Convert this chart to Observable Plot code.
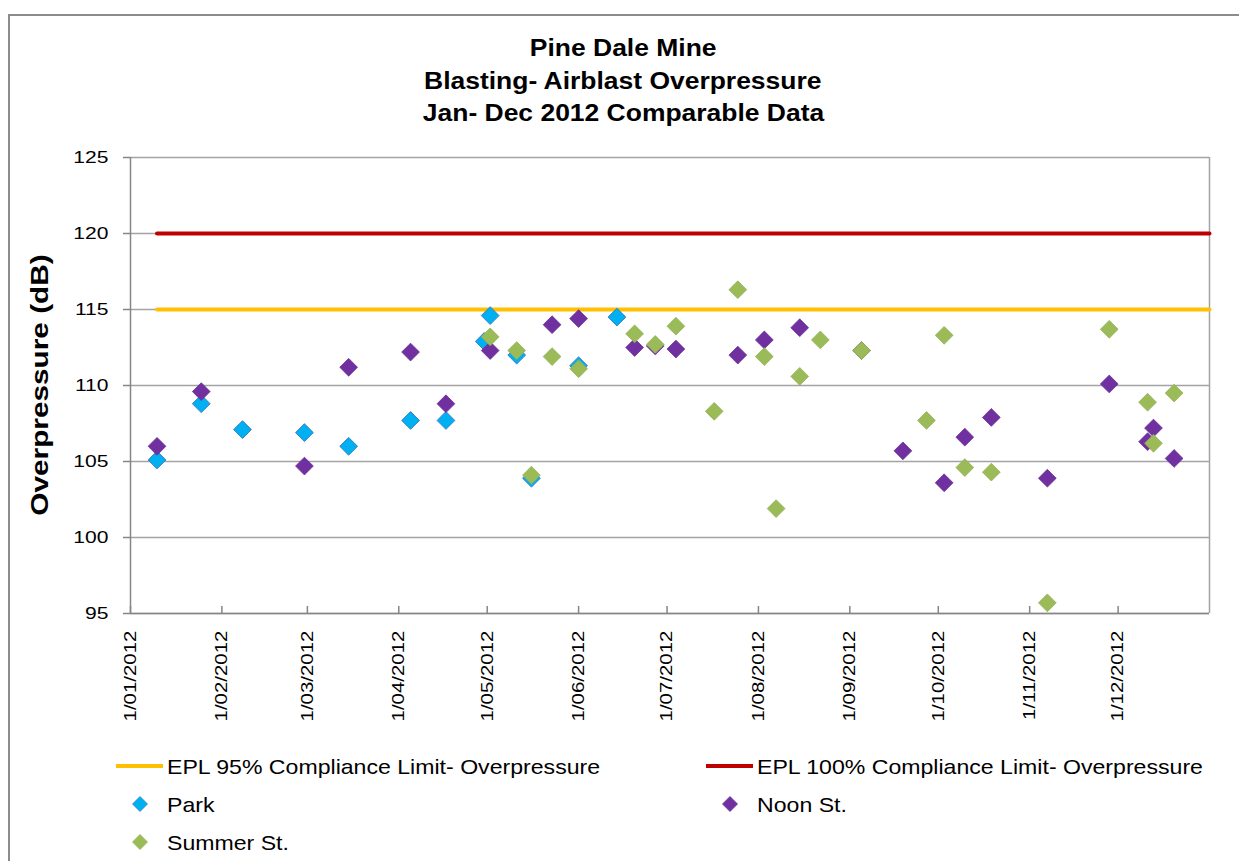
<!DOCTYPE html>
<html>
<head>
<meta charset="utf-8">
<script src="https://cdn.jsdelivr.net/npm/d3@7"></script>
<script src="https://cdn.jsdelivr.net/npm/@observablehq/plot@0.6"></script>
<style>
  body { margin: 0; background: #fff; font-family: "Liberation Sans", Arial, sans-serif; }
  #wrap { position: relative; width: 1239px; height: 861px; overflow: hidden; background: #fff; }
  #frame { position: absolute; left: 8px; top: 14px; width: 1300px; height: 900px; border-top: 2px solid #8c8c8c; border-left: 2px solid #8c8c8c; box-sizing: border-box; }
  #chart { position: absolute; left: 0; top: 0; }
  .tline { position: absolute; left: 0; width: 1246px; text-align: center; font-weight: bold; font-size: 23px; line-height: 23px; color: #000; white-space: nowrap; }
  .tline span { display: inline-block; transform: scaleX(1.15); }
  #ytitle { position: absolute; left: 40px; top: 385px; font-weight: bold; font-size: 24px; line-height: 24px; white-space: nowrap; transform: translate(-50%, -50%) rotate(-90deg) scaleX(1.24); }
  .ltext { position: absolute; font-size: 21px; line-height: 21px; white-space: nowrap; transform: scaleX(1.1); transform-origin: left center; color: #000; }
  .lline { position: absolute; height: 4px; }
  .lsym { position: absolute; width: 16px; height: 16px; }
</style>
</head>
<body>
<div id="wrap">
  <div id="frame"></div>
  <div id="chart"></div>
</div>
<script>
// ---- Data ----
const titleLines = ["Pine Dale Mine", "Blasting- Airblast Overpressure", "Jan- Dec 2012 Comparable Data"];
const yAxisTitle = "Overpressure (dB)";

const parkDates = ["2012-01-10","2012-01-25","2012-02-08","2012-02-29","2012-03-15","2012-04-05","2012-04-17","2012-04-30","2012-05-02","2012-05-11","2012-05-16","2012-06-01","2012-06-14"];
const parkValues = [105.1,108.8,107.1,106.9,106.0,107.7,107.7,112.9,114.6,112.0,103.9,111.3,114.5];

const noonDates = ["2012-01-10","2012-01-25","2012-02-29","2012-03-15","2012-04-05","2012-04-17","2012-05-02","2012-05-23","2012-06-01","2012-06-20","2012-06-27","2012-07-04","2012-07-25","2012-08-03","2012-08-15","2012-09-05","2012-09-19","2012-10-03","2012-10-10","2012-10-19","2012-11-07","2012-11-28","2012-12-11","2012-12-13","2012-12-20"];
const noonValues = [106.0,109.6,104.7,111.2,112.2,108.8,112.3,114.0,114.4,112.5,112.6,112.4,112.0,113.0,113.8,112.3,105.7,103.6,106.6,107.9,103.9,110.1,106.3,107.2,105.2];

const summerDates = ["2012-05-02","2012-05-11","2012-05-16","2012-05-23","2012-06-01","2012-06-20","2012-06-27","2012-07-04","2012-07-17","2012-07-25","2012-08-03","2012-08-07","2012-08-15","2012-08-22","2012-09-05","2012-09-27","2012-10-03","2012-10-10","2012-10-19","2012-11-07","2012-11-28","2012-12-11","2012-12-13","2012-12-20"];
const summerValues = [113.2,112.3,104.1,111.9,111.1,113.4,112.7,113.9,108.3,116.3,111.9,101.9,110.6,113.0,112.3,107.7,113.3,104.6,104.3,95.7,113.7,108.9,106.2,109.5];

const limitDates = ["2012-01-10","2013-01-01"];
const epl95Values = [115,115];
const epl100Values = [120,120];

const xDomainDates = ["2012-01-01","2013-01-01"];
const yDomain = [95,125];
const yTickValues = [95,100,105,110,115,120,125];
const tickFormatSpec = "%-d/%m/%Y";

const seriesNames = ["EPL 95% Compliance Limit- Overpressure","EPL 100% Compliance Limit- Overpressure","Park","Noon St.","Summer St."];
const seriesColors = ["#FFC000","#C00000","#00B0F0","#7030A0","#9BBB59"];

// ---- Build ----
const parse = d3.utcParse("%Y-%m-%d");
const rows = (dates, values) => dates.map((d, i) => ({date: parse(d), value: values[i]}));
const park = rows(parkDates, parkValues);
const noon = rows(noonDates, noonValues);
const summer = rows(summerDates, summerValues);
const epl95 = rows(limitDates, epl95Values);
const epl100 = rows(limitDates, epl100Values);
const xStart = parse(xDomainDates[0]), xEnd = parse(xDomainDates[1]);
const monthTicks = d3.utcMonths(xStart, xEnd);

const chart = Plot.plot({
  width: 1239,
  height: 740,
  marginTop: 157,
  marginBottom: 127,
  marginLeft: 130,
  marginRight: 30,
  style: {fontFamily: "'Liberation Sans', Arial, sans-serif", background: "transparent", color: "#000"},
  x: {type: "utc", domain: [xStart, xEnd]},
  y: {domain: yDomain},
  marks: [
    Plot.ruleY(yTickValues, {stroke: "#a3a3a3", strokeWidth: 1.5}),
    Plot.ruleY([yDomain[0]], {stroke: "#868686", strokeWidth: 1.5}),
    Plot.ruleX([xEnd], {stroke: "#a3a3a3", strokeWidth: 1.5}),
    Plot.ruleX([xStart], {stroke: "#868686", strokeWidth: 1.5}),
    Plot.axisY(yTickValues, {tickSize: 7, tickPadding: 15, fontSize: 17, stroke: "#868686", strokeWidth: 1.5, fill: "#000", label: null}),
    Plot.axisX(monthTicks, {tickSize: -7, tickPadding: 24, tickRotate: -90, tickFormat: d3.utcFormat(tickFormatSpec), fontSize: 16.5, stroke: "#868686", strokeWidth: 1.5, fill: "#000", label: null}),
    Plot.line(epl95, {x: "date", y: "value", stroke: seriesColors[0], strokeWidth: 4}),
    Plot.line(epl100, {x: "date", y: "value", stroke: seriesColors[1], strokeWidth: 4}),
    Plot.dot(park, {x: "date", y: "value", symbol: "diamond2", r: 8, fill: seriesColors[2], stroke: "#3d7fc9", strokeWidth: 1}),
    Plot.dot(noon, {x: "date", y: "value", symbol: "diamond2", r: 8, fill: seriesColors[3], stroke: "#6a2e98", strokeWidth: 0.8}),
    Plot.dot(summer, {x: "date", y: "value", symbol: "diamond2", r: 8, fill: seriesColors[4], stroke: "#93b255", strokeWidth: 0.8})
  ]
});

// stretch tick labels along reading direction like the reference
d3.select(chart).selectAll('g[aria-label="x-axis tick label"] text, g[aria-label="y-axis tick label"] text')
  .attr("transform", function() { return (this.getAttribute("transform") || "") + " scale(1.24,1)"; });

document.getElementById("chart").appendChild(chart);

const wrap = document.getElementById("wrap");
// title
const titleCenters = [48, 81, 113];
titleLines.forEach((t, i) => {
  const d = document.createElement("div");
  d.className = "tline";
  d.style.top = (titleCenters[i] - 11.5) + "px";
  const s = document.createElement("span");
  s.textContent = t;
  d.appendChild(s);
  wrap.appendChild(d);
});
// y title
const yt = document.createElement("div");
yt.id = "ytitle";
yt.textContent = yAxisTitle;
wrap.appendChild(yt);

// legend
const legendItems = [
  {name: seriesNames[0], color: seriesColors[0], kind: "line", x: 116, y: 766},
  {name: seriesNames[1], color: seriesColors[1], kind: "line", x: 706, y: 766},
  {name: seriesNames[2], color: seriesColors[2], kind: "sym", stroke: "#3d7fc9", x: 116, y: 804},
  {name: seriesNames[3], color: seriesColors[3], kind: "sym", stroke: "#6a2e98", x: 706, y: 804},
  {name: seriesNames[4], color: seriesColors[4], kind: "sym", stroke: "#93b255", x: 116, y: 842}
];
legendItems.forEach(it => {
  if (it.kind === "line") {
    const l = document.createElement("div");
    l.className = "lline";
    l.style.left = it.x + "px"; l.style.width = "47px";
    l.style.top = (it.y - 2) + "px"; l.style.background = it.color;
    wrap.appendChild(l);
  } else {
    const ns = "http://www.w3.org/2000/svg";
    const s = document.createElementNS(ns, "svg");
    s.setAttribute("class", "lsym");
    s.setAttribute("viewBox", "-8 -8 16 16");
    s.style.left = (it.x + 23.5 - 8) + "px";
    s.style.top = (it.y - 8) + "px";
    const p = document.createElementNS(ns, "path");
    p.setAttribute("d", "M0,-7.5L7.5,0L0,7.5L-7.5,0Z");
    p.setAttribute("fill", it.color);
    p.setAttribute("stroke", it.stroke);
    p.setAttribute("stroke-width", "0.8");
    s.appendChild(p);
    wrap.appendChild(s);
  }
  const t = document.createElement("div");
  t.className = "ltext";
  t.textContent = it.name;
  t.style.left = (it.x + 51) + "px";
  t.style.top = (it.y - 10.5) + "px";
  wrap.appendChild(t);
});
</script>
</body>
</html>
